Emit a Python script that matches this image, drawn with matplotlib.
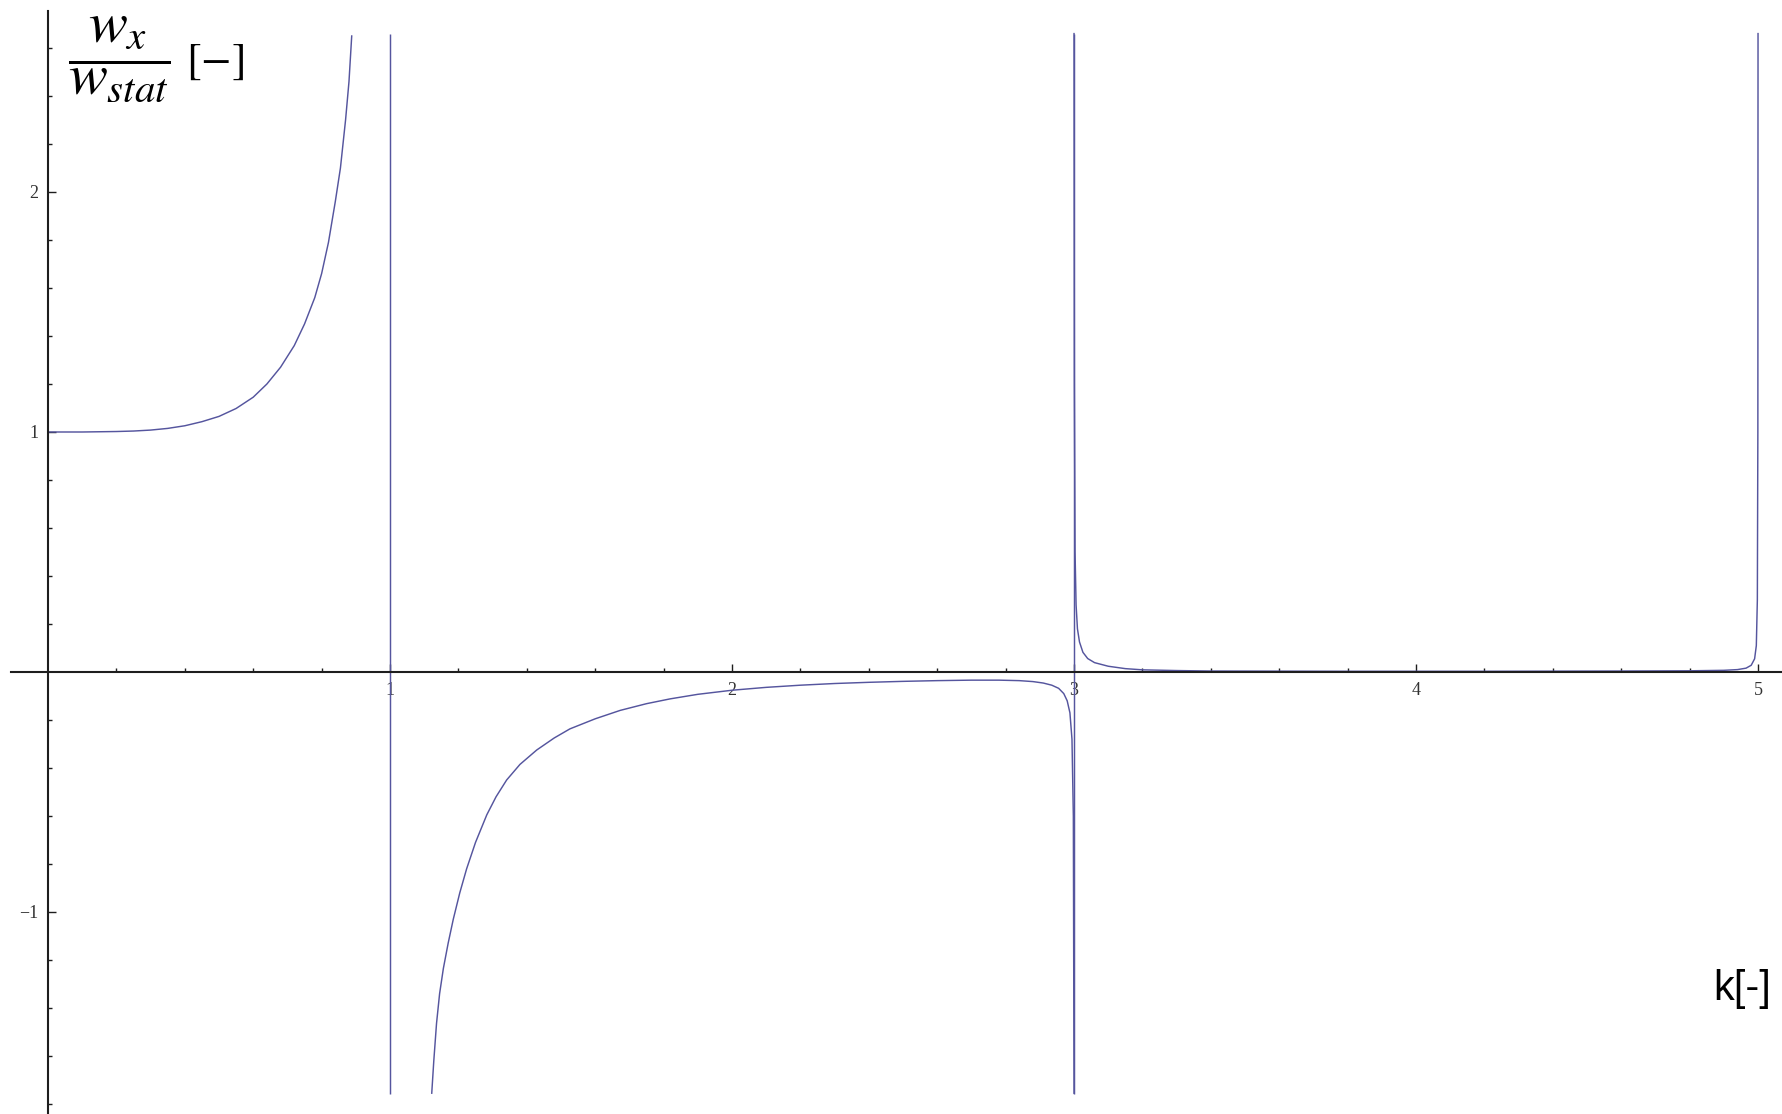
import matplotlib
matplotlib.use("Agg")
import matplotlib.pyplot as plt
from matplotlib.ticker import FixedLocator

# response ratio w_x / w_stat against frequency ratio k in three branches
k_branch1 = [0.0, 0.1, 0.2, 0.25, 0.3, 0.35, 0.4, 0.45, 0.5, 0.55, 0.6, 0.64,
             0.68, 0.72, 0.75, 0.78, 0.8, 0.82, 0.84, 0.855, 0.87, 0.88, 0.888]
w_branch1 = [1.0, 1.0, 1.002, 1.004, 1.008, 1.015, 1.026, 1.043, 1.065, 1.098, 1.145, 1.2,
             1.27, 1.36, 1.45, 1.56, 1.66, 1.79, 1.96, 2.1, 2.3, 2.46, 2.65]

k_branch2 = [1.122, 1.128, 1.136, 1.145, 1.156, 1.17, 1.185, 1.204, 1.224, 1.25,
             1.283, 1.31, 1.341, 1.38, 1.429, 1.48, 1.526, 1.6, 1.673, 1.75,
             1.819, 1.9, 2.0, 2.1, 2.2, 2.3, 2.4, 2.5, 2.6, 2.7,
             2.78, 2.84, 2.88, 2.91, 2.935, 2.955, 2.97, 2.98, 2.988, 2.994,
             2.998, 3.0]
w_branch2 = [-1.755, -1.62, -1.464, -1.34, -1.235, -1.13, -1.03, -0.92, -0.82, -0.71,
             -0.595, -0.52, -0.45, -0.385, -0.325, -0.275, -0.237, -0.195, -0.16, -0.132,
             -0.112, -0.093, -0.076, -0.064, -0.055, -0.048, -0.043, -0.039, -0.036, -0.034,
             -0.034, -0.036, -0.04, -0.046, -0.055, -0.068, -0.09, -0.12, -0.17, -0.28,
             -0.6, -1.755]

k_branch3 = [3.0, 3.001, 3.003, 3.006, 3.01, 3.016, 3.026, 3.04, 3.06, 3.1, 3.15,
             3.2, 3.3, 3.4, 3.8, 4.2, 4.6, 4.8, 4.9, 4.94, 4.965, 4.98, 4.99,
             4.995, 4.998, 4.9995, 5.0]
w_branch3 = [2.66, 1.2, 0.5, 0.28, 0.18, 0.125, 0.082, 0.056, 0.039, 0.024, 0.014,
             0.009, 0.006, 0.004, 0.003, 0.003, 0.004, 0.005, 0.007, 0.01, 0.016, 0.028, 0.055,
             0.11, 0.3, 1.0, 2.66]

# lines joined across the poles
poles = [1.0, 3.0]
w_low, w_high = -1.758, 2.66

line_col = "#55559e"
axis_col = "#1e1e1e"

fig = plt.figure(figsize=(17.83, 11.14), dpi=100)
ax = fig.add_axes([0, 0, 1, 1])
ax.set_xlim(-0.1404, 5.073)
ax.set_ylim(-1.8417, 2.8)

for kk, ww in [(k_branch1, w_branch1), (k_branch2, w_branch2), (k_branch3, w_branch3)]:
    ax.plot(kk, ww, color=line_col, lw=1.05, solid_joinstyle="round")
ax.vlines(poles, w_low, w_high, color=line_col, lw=1.05)

# axes crossing at the origin
for side in ["top", "right"]:
    ax.spines[side].set_visible(False)
ax.spines["left"].set_position(("data", 0))
ax.spines["bottom"].set_position(("data", 0))
ax.spines["left"].set_bounds(-1.8417, 2.754)
ax.spines["bottom"].set_bounds(-0.108, 5.073)
for side in ["left", "bottom"]:
    ax.spines[side].set_linewidth(1.5)
    ax.spines[side].set_color(axis_col)

ax.xaxis.set_major_locator(FixedLocator([1, 2, 3, 4, 5]))
ax.xaxis.set_minor_locator(FixedLocator([x / 5 for x in range(1, 26) if x % 5]))
ax.yaxis.set_major_locator(FixedLocator([-1, 1, 2]))
ax.yaxis.set_minor_locator(FixedLocator([y / 5 for y in range(-9, 14) if y % 5]))

ax.tick_params(which="both", direction="in", color=axis_col, width=1.0)
ax.tick_params(which="major", length=6)
ax.tick_params(which="minor", length=3.2)
ax.tick_params(axis="x", which="major", pad=7, labelsize=13, labelcolor="#333333")
ax.tick_params(axis="y", which="major", pad=7, labelsize=13, labelcolor="#333333")
for lab in ax.get_xticklabels() + ax.get_yticklabels():
    lab.set_family("Liberation Serif")

plt.rcParams["mathtext.fontset"] = "stix"
fig.text(68 / 1783, 1 - 59 / 1114, r"$\dfrac{w_x}{w_{stat}}$",
         fontsize=42, ha="left", va="center")
fig.text(186 / 1783, 1 - 61 / 1114, r"$[-]$",
         fontsize=32, ha="left", va="center")
fig.text(1742 / 1783, 1 - 989 / 1114, "k[-]", family="Liberation Sans",
         fontsize=30, ha="center", va="center")

fig.savefig("out.png", dpi=100)
